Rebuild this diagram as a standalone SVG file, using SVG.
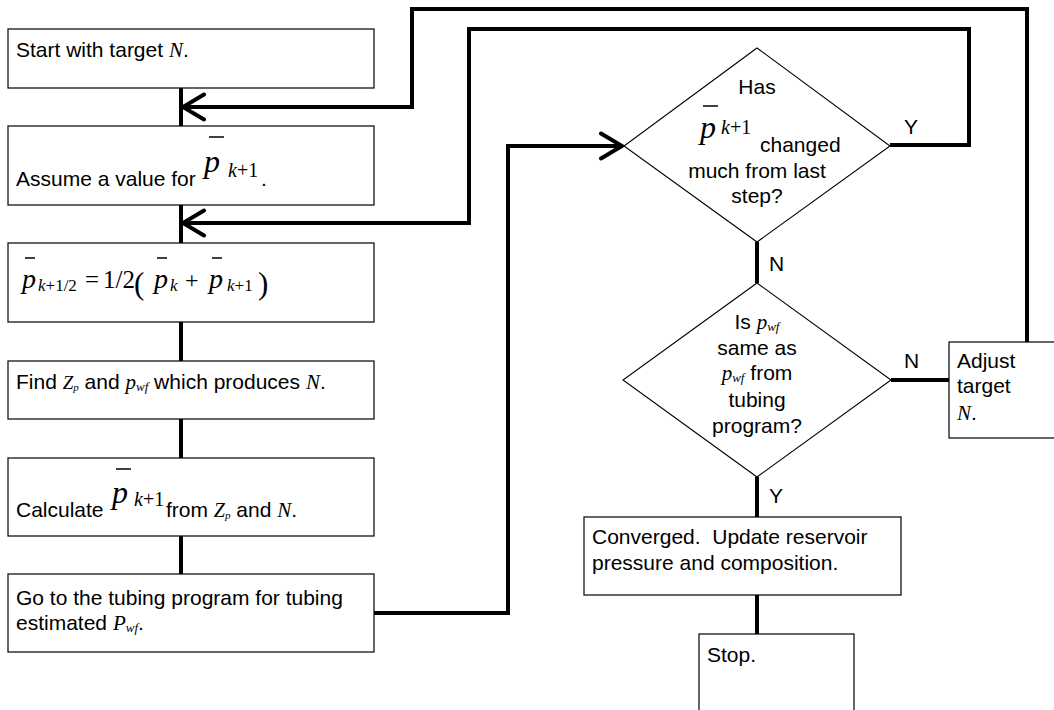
<svg xmlns="http://www.w3.org/2000/svg" width="1054" height="710" viewBox="0 0 1054 710">
  <defs>
    <style>
      .box { fill: #fff; stroke: #000; stroke-width: 1.2; }
      .dia { fill: #fff; stroke: #000; stroke-width: 1.1; }
      .t { font-family: "Liberation Sans", Arial, sans-serif; font-size: 21px; fill: #000; }
      .c { text-anchor: middle; }
      .mi { font-family: "Liberation Serif", "Times New Roman", serif; font-style: italic; }
      .mr { font-family: "Liberation Serif", "Times New Roman", serif; font-style: normal; }
      .big { font-size: 32px; }
      .mid { font-size: 28px; }
      .sub { font-size: 20px; }
      .sub2 { font-size: 17px; }
      .tiny { font-size: 11px; }
      .wf { font-size: 13px; }
      .bar { stroke: #000; stroke-width: 1.5; }
      .conn { fill: none; stroke: #000; stroke-width: 4; stroke-linejoin: miter; }
    </style>
    <marker id="openArrow" markerUnits="userSpaceOnUse" viewBox="-25 -16 28 32" markerWidth="28" markerHeight="32" refX="0" refY="0" orient="auto">
      <path d="M -21 -12.5 L 0 0 L -21 12.5" fill="none" stroke="#000" stroke-width="4" stroke-linecap="round" stroke-linejoin="miter"/>
    </marker>
  </defs>

  <rect width="1054" height="710" fill="#fff"/>

  <!-- connectors -->
  <g id="connectors">
    <line class="conn" x1="181" y1="88" x2="181" y2="126"/>
    <line class="conn" x1="181" y1="205" x2="181" y2="243"/>
    <line class="conn" x1="181" y1="322" x2="181" y2="361"/>
    <line class="conn" x1="181" y1="419" x2="181" y2="458"/>
    <line class="conn" x1="181" y1="536" x2="181" y2="574"/>
    <!-- retry loop: adjust target N, back to start -->
    <polyline class="conn" points="1027,342 1027,9 412,9 412,107 183,107" marker-end="url(#openArrow)"/>
    <!-- Y branch: pressure changed, reassume value -->
    <polyline class="conn" points="890,145 969,145 969,29 469,29 469,223 183,223" marker-end="url(#openArrow)"/>
    <!-- tubing program into first check -->
    <polyline class="conn" points="374,613 508,613 508,146 622,146" marker-end="url(#openArrow)"/>
    <line class="conn" x1="757" y1="242" x2="757" y2="283"/>
    <line class="conn" x1="891" y1="380" x2="949" y2="380"/>
    <line class="conn" x1="757" y1="477" x2="757" y2="517"/>
    <line class="conn" x1="757" y1="595" x2="757" y2="634"/>
  </g>

  <g id="start">
    <rect class="box" x="8" y="29" width="366" height="59"/>
    <text class="t" x="16" y="57">Start with target <tspan class="mi">N</tspan>.</text>
  </g>

  <g id="assume">
    <rect class="box" x="8" y="126" width="366" height="79"/>
    <text class="t" x="16" y="186">Assume a value for</text>
    <text class="t mi big" x="204" y="172">p</text>
    <line class="bar" x1="209" y1="137" x2="224" y2="137"/>
    <text class="t mr sub" x="228" y="177"><tspan class="mi">k</tspan>+1</text>
    <text class="t" x="261" y="186">.</text>
  </g>

  <g id="average">
    <rect class="box" x="8" y="243" width="366" height="79"/>
    <text class="t mi mid" x="22" y="288">p</text>
    <line class="bar" x1="25" y1="258" x2="35" y2="258"/>
    <text class="t mr sub2" x="38" y="291"><tspan class="mi">k</tspan>+1/2</text>
    <text class="t mr" x="85" y="288" style="font-size:25px">=</text>
    <text class="t mr" x="103" y="288" style="font-size:25px">1/2</text>
    <text class="t mr" x="134" y="294" style="font-size:31px">(</text>
    <text class="t mi mid" x="154" y="288">p</text>
    <line class="bar" x1="157" y1="258" x2="167" y2="258"/>
    <text class="t mi sub2" x="170" y="291">k</text>
    <text class="t mr" x="185" y="288" style="font-size:24px">+</text>
    <text class="t mi mid" x="209" y="288">p</text>
    <line class="bar" x1="212" y1="258" x2="222" y2="258"/>
    <text class="t mr sub2" x="227" y="291"><tspan class="mi">k</tspan>+1</text>
    <text class="t mr" x="258" y="294" style="font-size:31px">)</text>
  </g>

  <g id="find">
    <rect class="box" x="8" y="361" width="366" height="58"/>
    <text class="t" x="16" y="389">Find <tspan class="mi" style="font-size:19px">Z</tspan><tspan class="mi tiny" dy="2">p</tspan><tspan dy="-2"> and </tspan><tspan class="mi">p</tspan><tspan class="mi wf" dy="2">wf</tspan><tspan dy="-2"> which produces </tspan><tspan class="mi">N</tspan>.</text>
  </g>

  <g id="calculate">
    <rect class="box" x="8" y="458" width="366" height="78"/>
    <text class="t" x="16" y="517">Calculate</text>
    <text class="t mi big" x="112" y="503">p</text>
    <line class="bar" x1="116" y1="469" x2="131" y2="469"/>
    <text class="t mr sub" x="134" y="506"><tspan class="mi">k</tspan>+1</text>
    <text class="t" x="166" y="517">from <tspan class="mi" style="font-size:20px">Z</tspan><tspan class="mi tiny" dy="2">p</tspan><tspan dy="-2"> and </tspan><tspan class="mi">N</tspan>.</text>
  </g>

  <g id="tubing">
    <rect class="box" x="8" y="574" width="366" height="78"/>
    <text class="t" x="16" y="605">Go to the tubing program for tubing</text>
    <text class="t" x="16" y="630">estimated <tspan class="mi">P</tspan><tspan class="mi wf" dy="2">wf</tspan><tspan dy="-2">.</tspan></text>
  </g>

  <g id="check-change">
    <polygon class="dia" points="757,48 890,146 757,242 624,146"/>
    <text class="t c" x="757" y="94">Has</text>
    <text class="t mi big" x="700" y="138">p</text>
    <line class="bar" x1="703" y1="106" x2="718" y2="106"/>
    <text class="t mr sub" x="721" y="134"><tspan class="mi">k</tspan>+1</text>
    <text class="t" x="760" y="152">changed</text>
    <text class="t c" x="757" y="178">much from last</text>
    <text class="t c" x="757" y="203">step?</text>
  </g>

  <g id="check-pwf">
    <polygon class="dia" points="757,283 891,380 757,477 623,380"/>
    <text class="t c" x="757" y="329">Is <tspan class="mi">p</tspan><tspan class="mi wf" dy="2">wf</tspan></text>
    <text class="t c" x="757" y="355">same as</text>
    <text class="t c" x="757" y="380"><tspan class="mi">p</tspan><tspan class="mi wf" dy="2">wf</tspan><tspan dy="-2"> from</tspan></text>
    <text class="t c" x="757" y="407">tubing</text>
    <text class="t c" x="757" y="433">program?</text>
  </g>

  <g id="adjust">
    <rect class="box" x="949" y="342" width="115" height="96"/>
    <text class="t" x="957" y="368">Adjust</text>
    <text class="t" x="957" y="393">target</text>
    <text class="t" x="957" y="420"><tspan class="mi">N</tspan>.</text>
  </g>

  <g id="converged">
    <rect class="box" x="584" y="517" width="317" height="78"/>
    <text class="t" x="592" y="544" style="white-space:pre">Converged.  Update reservoir</text>
    <text class="t" x="592" y="570">pressure and composition.</text>
  </g>

  <g id="stop">
    <rect class="box" x="699" y="634" width="155" height="90"/>
    <text class="t" x="707" y="662">Stop.</text>
  </g>

  <g id="labels">
    <text class="t" x="769" y="271">N</text>
    <text class="t" x="904" y="134">Y</text>
    <text class="t" x="904" y="368">N</text>
    <text class="t" x="769" y="503">Y</text>
  </g>
</svg>
